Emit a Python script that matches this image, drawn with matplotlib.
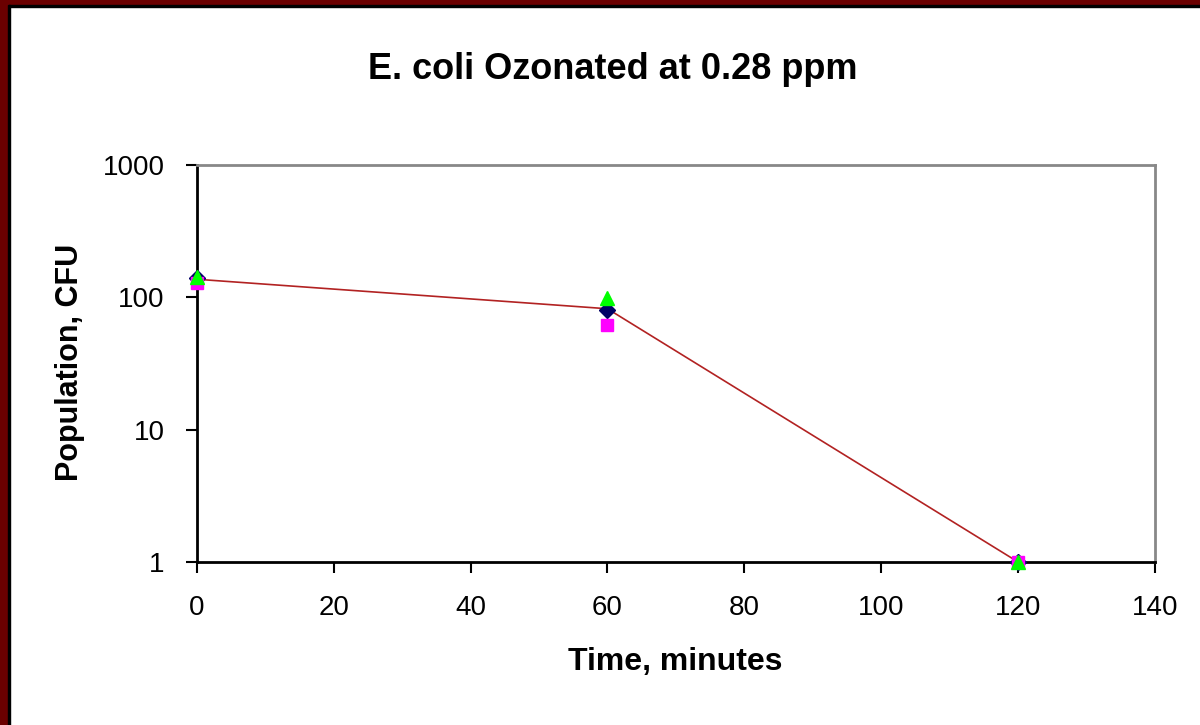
import matplotlib
matplotlib.use("Agg")
import matplotlib.pyplot as plt
from matplotlib.patches import Rectangle

plt.rcParams['font.family'] = ['Liberation Sans', 'DejaVu Sans']

time_min = [0, 60, 120]
pop_diamond = [140, 80, 1]
pop_square = [129, 62, 1]
pop_triangle = [143, 99, 1]
pop_line = [137, 82, 1]

fig = plt.figure(figsize=(12, 7.25), dpi=100)
ax = fig.add_axes([0.164, 0.2248, 0.7985, 0.5476])

ax.plot(time_min, pop_line, color='#b22222', lw=1.2, zorder=2)
ax.plot(time_min, pop_diamond, 'D', color='#000066', ms=8, ls='none', zorder=3, clip_on=False)
ax.plot(time_min, pop_square, 's', color='#ff00ff', ms=9, ls='none', zorder=3, clip_on=False)
ax.plot(time_min, pop_triangle, '^', color='#00ff00', ms=10, ls='none', zorder=4, clip_on=False)

ax.set_yscale('log')
ax.set_ylim(1, 1000)
ax.set_xlim(0, 140)
ax.set_xticks(range(0, 141, 20))
ax.set_yticks([1, 10, 100, 1000])
ax.set_yticklabels(['1', '10', '100', '1000'])
ax.minorticks_off()
ax.tick_params(direction='out', length=8, width=1.5, labelsize=20)
ax.tick_params(axis='x', pad=16)
ax.tick_params(axis='y', pad=15)

for s in ['top', 'right']:
    ax.spines[s].set_color('#888888')
    ax.spines[s].set_linewidth(2)
for s in ['left', 'bottom']:
    ax.spines[s].set_color('black')
    ax.spines[s].set_linewidth(2)

fig.text(0.511, 0.904, 'E. coli Ozonated at 0.28 ppm', ha='center', va='center', fontsize=26,
         fontweight='bold')
fig.text(0.563, 0.087, 'Time, minutes', ha='center', va='center', fontsize=23, fontweight='bold')
fig.text(0.058, 0.50, 'Population, CFU', ha='center', va='center', fontsize=22,
         fontweight='bold', rotation=90)

# frame
fig.patches.append(Rectangle((0, 1 - 5 / 725), 1, 5 / 725, transform=fig.transFigure,
                             color='#6b0000', zorder=0))
fig.patches.append(Rectangle((0, 1 - 7 / 725), 1, 2 / 725, transform=fig.transFigure,
                             color='black', zorder=0))
fig.patches.append(Rectangle((0, 0), 8 / 1200, 1, transform=fig.transFigure,
                             color='#6b0000', zorder=0))
fig.patches.append(Rectangle((8 / 1200, 0), 2 / 1200, 1 - 5 / 725, transform=fig.transFigure,
                             color='black', zorder=0))

fig.savefig('out.png', dpi=100)
